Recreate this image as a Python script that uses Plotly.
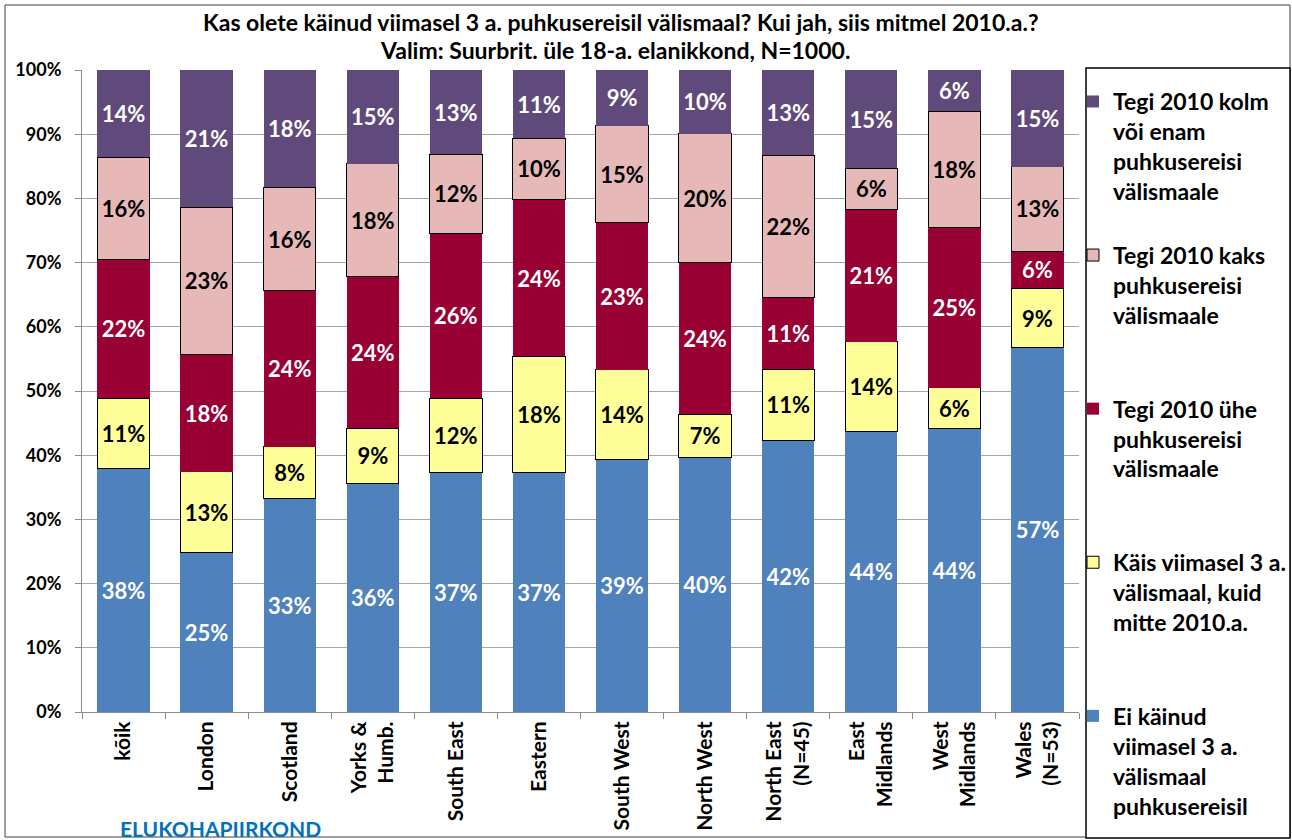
import plotly.graph_objects as go

categories = ["kõik", "London", "Scotland", "Yorks &<br>Humb.", "South East", "Eastern",
              "South West", "North West", "North East<br>(N=45)", "East<br>Midlands",
              "West<br>Midlands", "Wales<br>(N=53)"]

ei_kainud = [38.0, 24.8, 33.3, 35.6, 37.3, 37.3, 39.3, 39.6, 42.3, 43.7, 44.2, 56.7]
kais_mitte_2010 = [10.9, 12.6, 8.0, 8.6, 11.6, 18.1, 14.0, 6.8, 11.1, 14.0, 6.3, 9.3]
uhe = [21.6, 18.3, 24.3, 23.6, 25.6, 24.4, 22.9, 23.6, 11.1, 20.6, 24.9, 5.8]
kaks = [15.9, 22.9, 16.1, 17.6, 12.4, 9.6, 15.1, 20.1, 22.2, 6.4, 18.2, 13.1]
kolm = [13.6, 21.4, 18.3, 14.6, 13.1, 10.6, 8.7, 9.9, 13.3, 15.3, 6.4, 15.1]

series_names = [
    "Ei käinud<br>viimasel 3 a.<br>välismaal<br>puhkusereisil",
    "Käis viimasel 3 a.<br>välismaal, kuid<br>mitte 2010.a.<br>&nbsp;",
    "Tegi 2010 ühe<br>puhkusereisi<br>välismaale<br>&nbsp;",
    "Tegi 2010 kaks<br>puhkusereisi<br>välismaale<br>&nbsp;",
    "Tegi 2010 kolm<br>või enam<br>puhkusereisi<br>välismaale",
]
series_values = [ei_kainud, kais_mitte_2010, uhe, kaks, kolm]
colors = ["#4F81BD", "#FFFF99", "#990033", "#E6B9B8", "#604A7B"]
text_colors = ["white", "black", "white", "black", "white"]
line_widths = [0, 1, 0, 1, 0]

title_lines = ["Kas olete käinud viimasel 3 a. puhkusereisil välismaal? Kui jah, siis mitmel 2010.a.?",
               "Valim: Suurbrit. üle 18-a. elanikkond, N=1000."]

FONT = "Lato"

fig = go.Figure()
for i, (name, vals) in enumerate(zip(series_names, series_values)):
    fig.add_trace(go.Bar(
        x=categories, y=vals, name=name, legendgroup=f"g{i}", legendrank=10 - i,
        marker=dict(color=colors[i], line=dict(color="black", width=line_widths[i])),
        texttemplate="%{y:.0f}%", textposition="inside", insidetextanchor="middle",
        textangle=0, constraintext="none",
        textfont=dict(family=FONT, size=22, color=text_colors[i], weight="bold"),
        hoverinfo="skip",
    ))

W, H = 1292, 840
L, R, T, B = 82, 1079, 70, 712

def px_x(px):
    return (px - L) / (R - L)

def px_y(py):
    return (B - py) / (B - T)

fig.update_layout(
    width=W, height=H,
    margin=dict(l=L, r=W - R, t=T, b=H - B, autoexpand=False),
    barmode="stack", bargap=0.37,
    plot_bgcolor="white", paper_bgcolor="white",
    font=dict(family=FONT, color="black"),
    showlegend=True,
    legend=dict(xref="container", yref="container",
                x=1073 / W, xanchor="left", y=1 - 80 / H, yanchor="top",
                traceorder="grouped", tracegroupgap=31, valign="top",
                maxheight=800,
                font=dict(family=FONT, size=23, color="black", weight="bold"),
                bgcolor="rgba(0,0,0,0)", borderwidth=0),
    xaxis=dict(showline=True, linecolor="#8C8C8C", linewidth=1, automargin=False,
               ticks="outside", tickson="boundaries", ticklen=6, tickcolor="#8C8C8C",
               tickangle=-90, tickfont=dict(family=FONT, size=21, color="black", weight="bold"),
               showgrid=False),
    yaxis=dict(range=[0, 100], dtick=10, ticksuffix="%", automargin=False,
               showline=True, linecolor="#8C8C8C", linewidth=1,
               ticks="outside", ticklen=6, tickcolor="#8C8C8C", ticklabelstandoff=10,
               showgrid=True, gridcolor="#A6A6A6", gridwidth=1,
               tickfont=dict(family=FONT, size=18, color="black", weight="bold"),
               zeroline=False),
    shapes=[
        dict(type="rect", xref="paper", yref="paper",
             x0=px_x(5), x1=px_x(1290), y0=px_y(837), y1=px_y(5),
             line=dict(color="#404040", width=1), fillcolor="rgba(0,0,0,0)", layer="below"),
        dict(type="rect", xref="paper", yref="paper",
             x0=px_x(1086), x1=px_x(1290), y0=px_y(838), y1=px_y(68),
             line=dict(color="black", width=1.5), fillcolor="white", layer="below"),
    ],
    annotations=[
        dict(text=f"<b>{title_lines[0]}</b>", xref="paper", yref="paper",
             x=px_x(620), y=px_y(22), xanchor="center", yanchor="middle",
             showarrow=False, font=dict(family=FONT, size=23, color="black")),
        dict(text=f"<b>{title_lines[1]}</b>", xref="paper", yref="paper",
             x=px_x(615), y=px_y(50), xanchor="center", yanchor="middle",
             showarrow=False, font=dict(family=FONT, size=23, color="black")),
        dict(text="<b>ELUKOHAPIIRKOND</b>", xref="paper", yref="paper",
             x=px_x(220), y=px_y(828), xanchor="center", yanchor="middle",
             showarrow=False, font=dict(family=FONT, size=21, color="#0070C0")),
    ],
)

fig.write_html("out.html", config={"displayModeBar": False},
               post_script="document.body.style.margin='0';document.body.style.overflow='hidden';")
